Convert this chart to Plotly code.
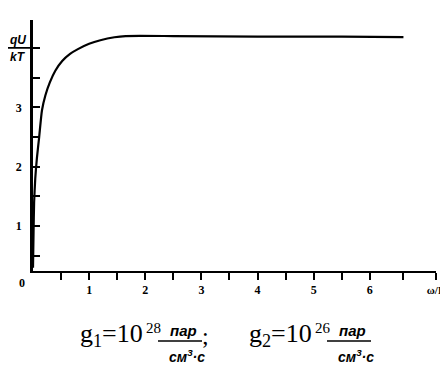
import plotly.graph_objects as go

# Curve values
omega_L = [0.0, 0.01, 0.02, 0.04, 0.07, 0.11, 0.16, 0.22, 0.30, 0.40, 0.52,
           0.66, 0.80, 1.00, 1.20, 1.45, 1.65, 2.5, 4.0, 5.5, 6.6]
qU_kT = [0.30, 0.90, 1.40, 1.80, 2.15, 2.50, 2.95, 3.20, 3.42, 3.62, 3.78,
         3.90, 3.98, 4.07, 4.13, 4.18, 4.20, 4.20, 4.19, 4.19, 4.18]

x_tickvals = [1, 2, 3, 4, 5, 6, 7.18]
x_ticktext = ["1", "2", "3", "4", "5", "6", "<span style='font-size:11px'>ω/L</span>"]
x_minor = [0.5, 1.5, 2.5, 3.5, 4.5, 5.5, 6.6]
y_tickvals = [1, 2, 3]
y_ticktext = ["1", "2", "3"]
y_minor = [0.5, 1.5, 2.5, 3.5, 4]

g_subs = ["1", "2"]
g_exps = ["28", "26"]

# page body has an 8px margin: compensate
OFF = 8
W, H = 448, 365 - OFF
L, R, T, B = 33, 436, 20, 271   # plot area in page pixels


def px(xp):
    return (xp - L) / (R - L)


def py(yp):
    return (B - yp) / (B - T)


fig = go.Figure()
fig.add_trace(go.Scatter(x=omega_L, y=qU_kT, mode="lines",
                         line=dict(color="black", width=2.2, shape="spline", smoothing=0.6),
                         hoverinfo="skip", showlegend=False))

serif = "Liberation Serif"
sans = "Liberation Sans"

annotations = []
shapes = []

# y label fraction
annotations.append(dict(x=px(18), y=py(40), xref="paper", yref="paper", showarrow=False,
                        text="<b><i>qU</i></b>", font=dict(family=sans, size=12, color="black"),
                        xanchor="center", yanchor="middle"))
annotations.append(dict(x=px(18), y=py(57), xref="paper", yref="paper", showarrow=False,
                        text="<b><i>kT</i></b>", font=dict(family=sans, size=12, color="black"),
                        xanchor="center", yanchor="middle"))
shapes.append(dict(type="line", xref="paper", yref="y", x0=px(5), x1=px(40), y0=4, y1=4,
                   line=dict(color="black", width=1.8)))
# origin label
annotations.append(dict(x=px(22), y=py(283), xref="paper", yref="paper", showarrow=False,
                        text="<b>0</b>", font=dict(family=serif, size=12, color="black"),
                        xanchor="center", yanchor="middle"))

# formula groups
for i, (sub, ex) in enumerate(zip(g_subs, g_exps)):
    d = 169 * i
    annotations.append(dict(x=px(145 + d), y=py(335), xref="paper", yref="paper", showarrow=False,
                            text="g<sub>" + sub + "</sub>=10",
                            font=dict(family=serif, size=26, color="black"),
                            xanchor="right", yanchor="middle"))
    annotations.append(dict(x=px(144 + d), y=py(328), xref="paper", yref="paper", showarrow=False,
                            text=ex, font=dict(family=serif, size=15, color="black"),
                            xanchor="left", yanchor="middle"))
    annotations.append(dict(x=px(183 + d), y=py(330), xref="paper", yref="paper", showarrow=False,
                            text="<b><i>пар</i></b>", font=dict(family=sans, size=15, color="black"),
                            xanchor="center", yanchor="middle"))
    annotations.append(dict(x=px(187 + d), y=py(356), xref="paper", yref="paper", showarrow=False,
                            text="<b><i>см<sup>3</sup>·с</i></b>", font=dict(family=sans, size=14, color="black"),
                            xanchor="center", yanchor="middle"))
    shapes.append(dict(type="line", xref="paper", yref="paper", x0=px(158 + d), x1=px(202 + d),
                       y0=py(341), y1=py(341), line=dict(color="black", width=1.3)))
    if i == 0:
        annotations.append(dict(x=px(205), y=py(336), xref="paper", yref="paper", showarrow=False,
                                text=";", font=dict(family=serif, size=24, color="black"),
                                xanchor="center", yanchor="middle"))

fig.update_layout(
    width=W, height=H,
    margin=dict(l=L - OFF, r=W - (R - OFF), t=T - OFF, b=H - (B - OFF), autoexpand=False),
    paper_bgcolor="white", plot_bgcolor="white",
    annotations=annotations, shapes=shapes,
    showlegend=False,
)
fig.update_xaxes(range=[0, 7.18], showgrid=False, zeroline=False, showline=True,
                 automargin=False,
                 linecolor="black", linewidth=2, ticks="outside", ticklen=7, tickwidth=2,
                 tickcolor="black", tickvals=x_tickvals, ticktext=x_ticktext,
                 minor=dict(tickvals=x_minor, ticks="outside", ticklen=7, tickwidth=2,
                            tickcolor="black", showgrid=False),
                 tickfont=dict(family=serif, size=12, color="black", weight="bold"))
fig.update_yaxes(range=[0.244, 4.47], showgrid=False, zeroline=False, showline=True,
                 automargin=False,
                 linecolor="black", linewidth=2.5, ticks="inside", ticklen=7, tickwidth=2,
                 tickcolor="black", tickvals=y_tickvals, ticktext=y_ticktext,
                 minor=dict(tickvals=y_minor, ticks="inside", ticklen=7, tickwidth=2,
                            tickcolor="black", showgrid=False),
                 ticklabelstandoff=6,
                 tickfont=dict(family=serif, size=12, color="black", weight="bold"))

fig.write_html("out.html")
